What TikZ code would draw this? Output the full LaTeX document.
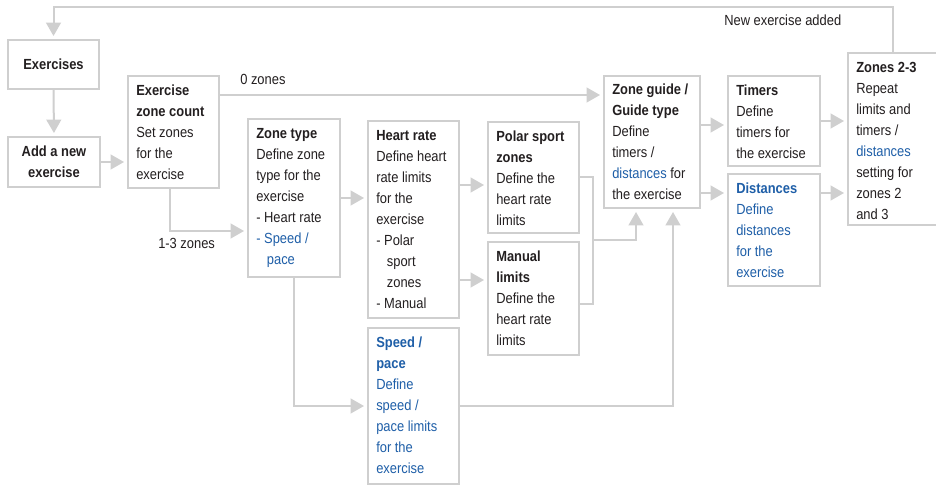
\documentclass[tikz,border=0pt]{standalone}
\usepackage{fontspec}
\setmainfont{Liberation Sans}[FakeStretch=0.88]
\usetikzlibrary{calc,fit,arrows.meta}
\definecolor{lgray}{HTML}{CFCFCF}
\definecolor{dtext}{HTML}{231F20}
\definecolor{bltext}{HTML}{1F5FA8}
\begin{document}
\begin{tikzpicture}[x=0.75pt,y=-0.75pt,
  box/.style={draw=lgray, line width=1.5pt, inner sep=0pt, outer sep=0pt},
  txt/.style={anchor=north west, align=left, inner sep=0pt, text=dtext, font=\fontsize{11}{15.75}\selectfont},
  ctxt/.style={align=center, inner sep=0pt, text=dtext, font=\fontsize{11}{15.75}\selectfont\bfseries},
  lbl/.style={anchor=base west, inner sep=0pt, text=dtext, font=\fontsize{11}{15.75}\selectfont},
  conn/.style={draw=lgray, line width=1.5pt},
  arr/.style={conn, -{Triangle[width=11pt,length=10pt]}, shorten >=3pt}]
\clip (0,0) rectangle (936,485);
\fill[white] (0,0) rectangle (936,485);
% boxes
\node[box, fit={(8,40)(99,89)}] (ex) {};
\node[box, fit={(8,137)(100,187)}] (an) {};
\node[box, fit={(128,76)(219,188)}] (zc) {};
\node[box, fit={(248,119)(340,277)}] (zt) {};
\node[box, fit={(368,121)(459,318)}] (hr) {};
\node[box, fit={(488,122)(579,233)}] (ps) {};
\node[box, fit={(488,242)(579,355)}] (ml) {};
\node[box, fit={(368,328)(459,484)}] (sp) {};
\node[box, fit={(604,76)(700,208)}] (zg) {};
\node[box, fit={(728,76)(820,166)}] (tm) {};
\node[box, fit={(728,174)(820,286)}] (ds) {};
\node[box, fit={(848,53)(950,225)}] (zz) {};
% texts
\node[ctxt] (tex) at (ex.center) {Exercises};
\node[ctxt] (tan) at (an.center) {Add a new\\exercise};
\node[txt] (tzc) at ($(zc.north west)+(8,4.3)$) {\strut\textbf{Exercise}\\\textbf{zone count}\\Set zones\\for the\\exercise};
\node[txt] (tzt) at ($(zt.north west)+(8,4.3)$) {\strut\textbf{Zone type}\\Define zone\\type for the\\exercise\\- Heart rate\\\textcolor{bltext}{- Speed /}\\\hspace*{8pt}\textcolor{bltext}{pace}};
\node[txt] (thr) at ($(hr.north west)+(8,4.3)$) {\strut\textbf{Heart rate}\\Define heart\\rate limits\\for the\\exercise\\- Polar\\\hspace*{8pt}sport\\\hspace*{8pt}zones\\- Manual};
\node[txt] (tps) at ($(ps.north west)+(8,4.3)$) {\strut\textbf{Polar sport}\\\textbf{zones}\\Define the\\heart rate\\limits};
\node[txt] (tml) at ($(ml.north west)+(8,5)$) {\strut\textbf{Manual}\\\textbf{limits}\\Define the\\heart rate\\limits};
\node[txt, text=bltext] (tsp) at ($(sp.north west)+(8,5)$) {\strut\textbf{Speed /}\\\textbf{pace}\\Define\\speed /\\pace limits\\for the\\exercise};
\node[txt] (tzg) at ($(zg.north west)+(8,3.6)$) {\strut\textbf{Zone guide /}\\\textbf{Guide type}\\Define\\timers /\\\textcolor{bltext}{distances} for\\the exercise};
\node[txt] (ttm) at ($(tm.north west)+(8,4.3)$) {\strut\textbf{Timers}\\Define\\timers for\\the exercise};
\node[txt, text=bltext] (tds) at ($(ds.north west)+(8,4.3)$) {\strut\textbf{Distances}\\Define\\distances\\for the\\exercise};
\node[txt] (tzz) at ($(zz.north west)+(8,4.3)$) {\strut\textbf{Zones 2-3}\\Repeat\\limits and\\timers /\\\textcolor{bltext}{distances}\\setting for\\zones 2\\and 3};
% labels
\node[lbl] (l0) at (240,85) {0 zones};
\node[lbl] (l13) at (158,248) {1-3 zones};
\node[lbl] (lnew) at (724,26) {New exercise added};
% helper coordinates
\coordinate (ctop) at (893,7);
\coordinate (cz0) at (0,95);
\coordinate (c13) at (170,231);
\coordinate (czt) at (0,198);
\coordinate (cps) at (0,185);
\coordinate (cml) at (0,280);
\coordinate (cbr1) at (593,177);
\coordinate (cbr2) at (593,304);
\coordinate (cbr) at (593,240);
\coordinate (cup1) at (636,0);
\coordinate (cup2) at (673,0);
\coordinate (ctm) at (0,125);
\coordinate (cds) at (0,193);
% connectors
\draw[arr] (zz.north -| ctop) -- (ctop) -| (ex.north);
\draw[arr] (ex.south) -- (an.north);
\draw[arr] (an.east) -- (an.east -| zc.west);
\draw[arr] (zc.east |- cz0) -- (zg.west |- cz0);
\draw[arr] (zc.south -| c13) |- (zt.west |- c13);
\draw[arr] (zt.east |- czt) -- (hr.west |- czt);
\draw[arr] (hr.east |- cps) -- (ps.west |- cps);
\draw[arr] (hr.east |- cml) -- (ml.west |- cml);
\draw[arr] (zt.south) |- (sp.west);
\draw[conn] (ps.east |- cbr1) -- (cbr1) -- (cbr2) -- (ml.east |- cbr2);
\draw[arr] (cbr) -| (zg.south -| cup1);
\draw[arr] (sp.east) -| (zg.south -| cup2);
\draw[arr] (zg.east |- ctm) -- (tm.west |- ctm);
\draw[arr] (zg.east |- cds) -- (ds.west |- cds);
\draw[arr] (tm.east) -- (tm.east -| zz.west);
\draw[arr] (ds.east |- cds) -- (zz.west |- cds);
\end{tikzpicture}
\end{document}
